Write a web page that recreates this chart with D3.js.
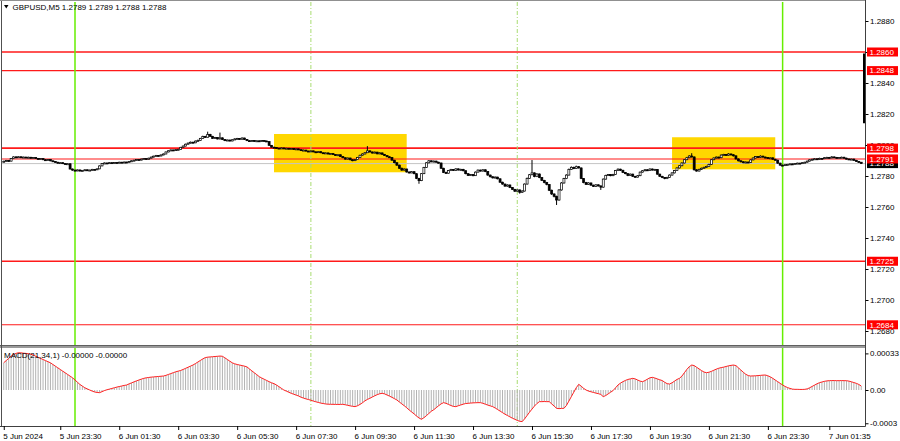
<!DOCTYPE html>
<html><head><meta charset="utf-8">
<script src="https://cdn.jsdelivr.net/npm/d3@7"></script>
<style>html,body{margin:0;padding:0;background:#fff;} svg{display:block;font-family:"Liberation Sans",Arial,sans-serif;}</style>
</head><body><svg id="c" width="900" height="441"></svg>
<script>
const symbolTitle = "GBPUSD,M5";
const lastOHLC = ["1.2789","1.2789","1.2788","1.2788"];
const macdTitle = "MACD(21,34,1) -0.00000 -0.00000";
const firstOpen = 1.27892;
const closes = [
1.27895,1.27900,1.27896,1.27912,1.27923,1.27920,1.27924,1.27918,1.27922,1.27919,
1.27921,1.27915,1.27919,1.27914,1.27908,1.27912,1.27905,1.27901,1.27906,1.27898,
1.27894,1.27889,1.27883,1.27886,1.27880,1.27877,1.27879,1.27845,1.27838,1.27834,
1.27839,1.27832,1.27836,1.27840,1.27835,1.27838,1.27843,1.27841,1.27846,1.27865,
1.27880,1.27884,1.27882,1.27886,1.27883,1.27887,1.27885,1.27889,1.27886,1.27890,
1.27888,1.27893,1.27898,1.27902,1.27906,1.27903,1.27909,1.27912,1.27908,1.27915,
1.27922,1.27928,1.27933,1.27929,1.27936,1.27942,1.27955,1.27963,1.27968,1.27964,
1.27970,1.27972,1.27985,1.27993,1.28005,1.28012,1.28018,1.28014,1.28025,1.28030,
1.28042,1.28055,1.28050,1.28068,1.28056,1.28043,1.28048,1.28039,1.28046,1.28035,
1.28028,1.28032,1.28026,1.28034,1.28039,1.28042,1.28037,1.28045,1.28036,1.28028,
1.28024,1.28029,1.28025,1.28027,1.28023,1.28029,1.28026,1.28022,1.27998,1.27986,
1.27983,1.27980,1.27978,1.27981,1.27976,1.27979,1.27975,1.27977,1.27972,1.27975,
1.27970,1.27964,1.27967,1.27961,1.27958,1.27962,1.27956,1.27953,1.27957,1.27950,
1.27946,1.27949,1.27942,1.27945,1.27938,1.27933,1.27937,1.27925,1.27918,1.27909,
1.27916,1.27905,1.27899,1.27906,1.27920,1.27934,1.27942,1.27950,1.27962,1.27955,
1.27948,1.27954,1.27943,1.27949,1.27940,1.27932,1.27924,1.27920,1.27902,1.27886,
1.27870,1.27850,1.27838,1.27845,1.27826,1.27820,1.27828,1.27815,1.27785,1.27770,
1.27815,1.27855,1.27885,1.27898,1.27892,1.27896,1.27889,1.27884,1.27850,1.27823,
1.27818,1.27835,1.27842,1.27836,1.27846,1.27839,1.27843,1.27834,1.27815,1.27804,
1.27809,1.27802,1.27825,1.27838,1.27832,1.27840,1.27829,1.27806,1.27795,1.27788,
1.27793,1.27782,1.27760,1.27748,1.27735,1.27742,1.27726,1.27714,1.27702,1.27710,
1.27695,1.27703,1.27748,1.27785,1.27808,1.27820,1.27796,1.27813,1.27790,1.27772,
1.27758,1.27745,1.27708,1.27684,1.27669,1.27645,1.27710,1.27755,1.27783,1.27806,
1.27843,1.27856,1.27848,1.27860,1.27852,1.27784,1.27758,1.27746,1.27755,1.27741,
1.27733,1.27743,1.27736,1.27728,1.27780,1.27804,1.27809,1.27802,1.27810,1.27835,
1.27844,1.27837,1.27823,1.27815,1.27803,1.27812,1.27798,1.27793,1.27802,1.27825,
1.27834,1.27840,1.27836,1.27845,1.27839,1.27842,1.27812,1.27798,1.27790,1.27783,
1.27791,1.27806,1.27820,1.27835,1.27852,1.27866,1.27884,1.27905,1.27918,1.27929,
1.27923,1.27840,1.27832,1.27843,1.27850,1.27856,1.27862,1.27875,1.27905,1.27916,
1.27922,1.27918,1.27935,1.27939,1.27934,1.27942,1.27937,1.27930,1.27910,1.27898,
1.27892,1.27886,1.27890,1.27888,1.27904,1.27916,1.27925,1.27920,1.27928,1.27922,
1.27919,1.27913,1.27917,1.27908,1.27902,1.27883,1.27870,1.27869,1.27873,1.27875,
1.27878,1.27876,1.27880,1.27883,1.27881,1.27886,1.27889,1.27896,1.27904,1.27908,
1.27911,1.27909,1.27914,1.27912,1.27918,1.27920,1.27917,1.27923,1.27920,1.27916,
1.27919,1.27921,1.27915,1.27910,1.27906,1.27909,1.27901,1.27894,1.27889,1.27880];
const highs = [
1.27899,1.27904,1.27903,1.27915,1.27927,1.27928,1.27927,1.27926,1.27925,1.27924,
1.27925,1.27923,1.27922,1.27921,1.27916,1.27915,1.27914,1.27908,1.27909,1.27908,
1.27900,1.27896,1.27891,1.27889,1.27888,1.27882,1.27882,1.27881,1.27848,1.27841,
1.27842,1.27841,1.27839,1.27843,1.27842,1.27841,1.27846,1.27845,1.27849,1.27868,
1.27883,1.27887,1.27886,1.27889,1.27888,1.27890,1.27889,1.27892,1.27891,1.27893,
1.27892,1.27896,1.27901,1.27905,1.27909,1.27908,1.27912,1.27915,1.27914,1.27918,
1.27925,1.27931,1.27936,1.27935,1.27939,1.27945,1.27958,1.27966,1.27971,1.27970,
1.27973,1.27976,1.27988,1.27997,1.28009,1.28016,1.28022,1.28021,1.28029,1.28035,
1.28046,1.28060,1.28059,1.28086,1.28072,1.28059,1.28052,1.28050,1.28080,1.28049,
1.28038,1.28035,1.28034,1.28037,1.28043,1.28046,1.28045,1.28049,1.28047,1.28038,
1.28030,1.28032,1.28031,1.28030,1.28029,1.28032,1.28031,1.28028,1.28024,1.28000,
1.27989,1.27986,1.27982,1.27984,1.27983,1.27982,1.27981,1.27980,1.27979,1.27978,
1.27977,1.27972,1.27970,1.27969,1.27963,1.27965,1.27964,1.27958,1.27960,1.27959,
1.27952,1.27952,1.27951,1.27948,1.27947,1.27940,1.27940,1.27939,1.27928,1.27920,
1.27919,1.27918,1.27908,1.27909,1.27923,1.27937,1.27946,1.27954,1.27993,1.27966,
1.27958,1.27958,1.27956,1.27953,1.27951,1.27942,1.27934,1.27927,1.27922,1.27904,
1.27888,1.27873,1.27854,1.27849,1.27847,1.27829,1.27832,1.27830,1.27817,1.27788,
1.27819,1.27859,1.27890,1.27903,1.27901,1.27900,1.27899,1.27892,1.27886,1.27853,
1.27828,1.27839,1.27846,1.27845,1.27850,1.27849,1.27847,1.27846,1.27836,1.27818,
1.27813,1.27812,1.27829,1.27842,1.27841,1.27844,1.27843,1.27831,1.27809,1.27798,
1.27797,1.27795,1.27784,1.27763,1.27751,1.27746,1.27745,1.27729,1.27717,1.27714,
1.27713,1.27708,1.27752,1.27790,1.27813,1.27903,1.27823,1.27818,1.27816,1.27793,
1.27775,1.27762,1.27748,1.27712,1.27688,1.27673,1.27715,1.27760,1.27788,1.27811,
1.27848,1.27862,1.27860,1.27867,1.27864,1.27855,1.27787,1.27762,1.27759,1.27758,
1.27744,1.27747,1.27746,1.27739,1.27784,1.27808,1.27813,1.27812,1.27814,1.27839,
1.27849,1.27847,1.27840,1.27826,1.27818,1.27816,1.27815,1.27801,1.27806,1.27829,
1.27838,1.27845,1.27843,1.27849,1.27848,1.27846,1.27845,1.27815,1.27801,1.27793,
1.27795,1.27810,1.27824,1.27839,1.27856,1.27870,1.27888,1.27909,1.27923,1.27934,
1.27947,1.27926,1.27844,1.27847,1.27854,1.27860,1.27866,1.27879,1.27909,1.27920,
1.27926,1.27925,1.27939,1.27943,1.27942,1.27947,1.27945,1.27940,1.27933,1.27913,
1.27901,1.27895,1.27894,1.27893,1.27908,1.27920,1.27929,1.27928,1.27933,1.27931,
1.27925,1.27922,1.27920,1.27920,1.27911,1.27905,1.27886,1.27873,1.27876,1.27878,
1.27881,1.27880,1.27883,1.27886,1.27885,1.27889,1.27892,1.27899,1.27908,1.27912,
1.27915,1.27914,1.27918,1.27916,1.27922,1.27924,1.27923,1.27928,1.27926,1.27923,
1.27922,1.27925,1.27924,1.27918,1.27913,1.27912,1.27912,1.27904,1.27897,1.27890];
const lows = [
1.27889,1.27893,1.27893,1.27894,1.27910,1.27917,1.27918,1.27915,1.27916,1.27916,
1.27917,1.27912,1.27913,1.27911,1.27905,1.27906,1.27902,1.27898,1.27899,1.27895,
1.27891,1.27886,1.27880,1.27881,1.27877,1.27874,1.27875,1.27842,1.27834,1.27830,
1.27831,1.27829,1.27830,1.27834,1.27832,1.27833,1.27836,1.27838,1.27839,1.27844,
1.27863,1.27878,1.27879,1.27880,1.27880,1.27881,1.27882,1.27883,1.27884,1.27884,
1.27885,1.27886,1.27891,1.27896,1.27900,1.27900,1.27901,1.27907,1.27905,1.27906,
1.27913,1.27920,1.27926,1.27926,1.27927,1.27934,1.27940,1.27953,1.27961,1.27961,
1.27962,1.27968,1.27970,1.27983,1.27991,1.28003,1.28010,1.28011,1.28012,1.28022,
1.28028,1.28040,1.28046,1.28048,1.28053,1.28040,1.28040,1.28036,1.28036,1.28032,
1.28025,1.28026,1.28023,1.28024,1.28032,1.28037,1.28034,1.28035,1.28033,1.28025,
1.28021,1.28022,1.28022,1.28023,1.28020,1.28021,1.28023,1.28019,1.27995,1.27983,
1.27980,1.27977,1.27975,1.27976,1.27973,1.27974,1.27972,1.27973,1.27969,1.27970,
1.27967,1.27961,1.27962,1.27958,1.27955,1.27956,1.27953,1.27950,1.27951,1.27947,
1.27943,1.27944,1.27939,1.27940,1.27935,1.27930,1.27931,1.27922,1.27915,1.27905,
1.27906,1.27901,1.27895,1.27896,1.27904,1.27918,1.27932,1.27940,1.27948,1.27952,
1.27945,1.27946,1.27940,1.27941,1.27937,1.27929,1.27921,1.27917,1.27899,1.27882,
1.27866,1.27846,1.27834,1.27835,1.27822,1.27816,1.27818,1.27811,1.27780,1.27750,
1.27767,1.27812,1.27852,1.27882,1.27888,1.27889,1.27886,1.27880,1.27846,1.27819,
1.27814,1.27816,1.27832,1.27833,1.27834,1.27835,1.27836,1.27830,1.27811,1.27800,
1.27801,1.27798,1.27800,1.27823,1.27829,1.27829,1.27825,1.27802,1.27791,1.27784,
1.27785,1.27778,1.27756,1.27744,1.27730,1.27731,1.27722,1.27710,1.27697,1.27699,
1.27686,1.27691,1.27700,1.27745,1.27782,1.27805,1.27792,1.27793,1.27786,1.27768,
1.27753,1.27740,1.27703,1.27678,1.27662,1.27613,1.27641,1.27706,1.27751,1.27780,
1.27803,1.27840,1.27844,1.27845,1.27848,1.27780,1.27753,1.27742,1.27743,1.27737,
1.27729,1.27730,1.27732,1.27710,1.27725,1.27777,1.27800,1.27798,1.27799,1.27807,
1.27832,1.27833,1.27819,1.27811,1.27799,1.27800,1.27794,1.27789,1.27790,1.27799,
1.27822,1.27831,1.27832,1.27833,1.27835,1.27836,1.27808,1.27794,1.27786,1.27779,
1.27780,1.27788,1.27803,1.27817,1.27832,1.27849,1.27863,1.27881,1.27902,1.27915,
1.27919,1.27835,1.27828,1.27829,1.27840,1.27847,1.27853,1.27859,1.27872,1.27902,
1.27913,1.27914,1.27915,1.27932,1.27930,1.27931,1.27933,1.27926,1.27906,1.27894,
1.27888,1.27882,1.27883,1.27884,1.27885,1.27901,1.27913,1.27916,1.27917,1.27919,
1.27915,1.27910,1.27910,1.27904,1.27898,1.27879,1.27866,1.27865,1.27866,1.27870,
1.27872,1.27873,1.27873,1.27877,1.27878,1.27878,1.27883,1.27886,1.27893,1.27901,
1.27905,1.27906,1.27906,1.27909,1.27909,1.27915,1.27914,1.27914,1.27917,1.27913,
1.27913,1.27916,1.27912,1.27907,1.27903,1.27903,1.27898,1.27891,1.27886,1.27880];
const macd = [
2.46e-4,2.65e-4,2.85e-4,3.05e-4,3.2e-4,3.3e-4,3.36e-4,3.35e-4,3.32e-4,3.3e-4,
3.27e-4,3.22e-4,3.15e-4,3.05e-4,2.95e-4,2.85e-4,2.75e-4,2.65e-4,2.55e-4,2.45e-4,
2.3e-4,2.15e-4,2.0e-4,1.85e-4,1.7e-4,1.55e-4,1.4e-4,1.25e-4,1.1e-4,0.9e-4,
0.7e-4,0.5e-4,0.35e-4,0.2e-4,0.1e-4,0,-0.1e-4,-0.18e-4,-0.22e-4,-0.24e-4,
-0.15e-4,-0.05e-4,0.02e-4,0.08e-4,0.14e-4,0.2e-4,0.26e-4,0.31e-4,0.36e-4,0.41e-4,
0.45e-4,0.55e-4,0.64e-4,0.73e-4,0.82e-4,0.9e-4,0.98e-4,1.05e-4,1.1e-4,1.13e-4,
1.16e-4,1.18e-4,1.2e-4,1.22e-4,1.24e-4,1.26e-4,1.32e-4,1.4e-4,1.48e-4,1.56e-4,
1.64e-4,1.7e-4,1.76e-4,1.85e-4,1.95e-4,2.05e-4,2.15e-4,2.25e-4,2.38e-4,2.52e-4,
2.66e-4,2.8e-4,2.92e-4,2.96e-4,2.98e-4,3.0e-4,3.02e-4,3.04e-4,3.06e-4,3.04e-4,
2.9e-4,2.75e-4,2.6e-4,2.45e-4,2.36e-4,2.3e-4,2.25e-4,2.2e-4,2.15e-4,2.08e-4,
1.9e-4,1.72e-4,1.55e-4,1.38e-4,1.2e-4,1.08e-4,0.97e-4,0.86e-4,0.75e-4,0.65e-4,
0.57e-4,0.45e-4,0.3e-4,0.15e-4,0,-0.1e-4,-0.2e-4,-0.3e-4,-0.38e-4,-0.46e-4,
-0.54e-4,-0.65e-4,-0.73e-4,-0.8e-4,-0.86e-4,-0.92e-4,-1.0e-4,-1.06e-4,-1.12e-4,-1.18e-4,
-1.22e-4,-1.26e-4,-1.28e-4,-1.29e-4,-1.29e-4,-1.3e-4,-1.3e-4,-1.3e-4,-1.29e-4,-1.33e-4,
-1.38e-4,-1.43e-4,-1.47e-4,-1.5e-4,-1.42e-4,-1.3e-4,-1.15e-4,-0.98e-4,-0.85e-4,-0.75e-4,
-0.63e-4,-0.52e-4,-0.42e-4,-0.34e-4,-0.3e-4,-0.35e-4,-0.45e-4,-0.55e-4,-0.66e-4,-0.78e-4,
-0.9e-4,-1.08e-4,-1.25e-4,-1.42e-4,-1.6e-4,-1.8e-4,-1.98e-4,-2.15e-4,-2.35e-4,-2.52e-4,
-2.64e-4,-2.5e-4,-2.32e-4,-2.12e-4,-1.92e-4,-1.78e-4,-1.6e-4,-1.42e-4,-1.25e-4,-1.14e-4,
-1.2e-4,-1.3e-4,-1.4e-4,-1.48e-4,-1.5e-4,-1.42e-4,-1.35e-4,-1.28e-4,-1.22e-4,-1.2e-4,
-1.18e-4,-1.16e-4,-1.15e-4,-1.14e-4,-1.14e-4,-1.2e-4,-1.28e-4,-1.36e-4,-1.43e-4,-1.5e-4,
-1.62e-4,-1.76e-4,-1.9e-4,-2.04e-4,-2.18e-4,-2.3e-4,-2.42e-4,-2.54e-4,-2.64e-4,-2.74e-4,
-2.82e-4,-2.85e-4,-2.6e-4,-2.3e-4,-2.0e-4,-1.72e-4,-1.45e-4,-1.22e-4,-1.05e-4,-1.05e-4,
-1.04e-4,-1.05e-4,-1.05e-4,-1.25e-4,-1.45e-4,-1.65e-4,-1.68e-4,-1.66e-4,-1.65e-4,-1.4e-4,
-1.0e-4,-0.6e-4,-0.2e-4,0.2e-4,0.51e-4,0.35e-4,0.15e-4,0,-0.1e-4,-0.16e-4,
-0.22e-4,-0.28e-4,-0.33e-4,-0.4e-4,-0.6e-4,-0.5e-4,-0.35e-4,-0.2e-4,-0.05e-4,0.2e-4,
0.45e-4,0.62e-4,0.75e-4,0.86e-4,0.95e-4,1.0e-4,1.05e-4,1.0e-4,0.9e-4,0.8e-4,
0.75e-4,0.85e-4,0.98e-4,1.1e-4,1.14e-4,1.08e-4,1.0e-4,0.92e-4,0.85e-4,0.7e-4,
0.57e-4,0.54e-4,0.65e-4,0.8e-4,0.95e-4,1.05e-4,1.25e-4,1.55e-4,1.85e-4,2.1e-4,
2.25e-4,2.2e-4,2.05e-4,1.9e-4,1.75e-4,1.62e-4,1.56e-4,1.6e-4,1.68e-4,1.78e-4,
1.88e-4,1.96e-4,2.02e-4,2.06e-4,2.12e-4,2.18e-4,2.22e-4,2.25e-4,2.2e-4,2.0e-4,
1.8e-4,1.6e-4,1.42e-4,1.3e-4,1.26e-4,1.27e-4,1.28e-4,1.3e-4,1.32e-4,1.34e-4,
1.35e-4,1.28e-4,1.18e-4,1.05e-4,0.9e-4,0.75e-4,0.6e-4,0.45e-4,0.32e-4,0.22e-4,
0.14e-4,0.08e-4,0.06e-4,0.06e-4,0.05e-4,0.05e-4,0.06e-4,0.1e-4,0.2e-4,0.32e-4,
0.44e-4,0.56e-4,0.66e-4,0.72e-4,0.78e-4,0.82e-4,0.84e-4,0.85e-4,0.85e-4,0.84e-4,
0.84e-4,0.85e-4,0.84e-4,0.84e-4,0.8e-4,0.74e-4,0.67e-4,0.6e-4,0.5e-4,0.36e-4];
const priceTicks = [1.2880,1.2860,1.2840,1.2820,1.2800,1.2780,1.2760,1.2740,1.2720,1.2700,1.2680];
const macdTicks = [0.00033, 0, -0.0003];
const macdTickLabels = ["0.00033","0.00","-0.0003"];
const levels = [1.2860,1.2848,1.2798,1.2791,1.2725,1.2684];
const currentPrice = 1.2788;
const rightBar = [1.2859, 1.2814];
const timeLabels = ["5 Jun 2024","5 Jun 23:30","6 Jun 01:30","6 Jun 03:30","6 Jun 05:30","6 Jun 07:30","6 Jun 09:30","6 Jun 11:30","6 Jun 13:30","6 Jun 15:30","6 Jun 17:30","6 Jun 19:30","6 Jun 21:30","6 Jun 23:30","7 Jun 01:35"];
const timeLabelBars = [0,23,47,71,95,119,143,167,191,215,239,263,287,311,336];
const dayBars = [29, 317];
const markerBars = [125, 209];
const boxStartBars = [110, 272];
const boxEndBars = [164, 314];
const boxHighs = [1.28071, 1.28050];
const boxLows = [1.27824, 1.27843];

const svg = d3.select("#c");
const axisX = 865.5, mainT = 2, mainB = 345, macdT = 348, macdB = 426;
const n = closes.length;
const x = d3.scaleLinear().domain([0, n - 1]).range([3.75, 3.75 + (n - 1) * 2.457]);
const y = d3.scaleLinear().domain([1.268, 1.288]).range([331, 21]);
const ym = d3.scaleLinear().domain([0, 0.00033]).range([390, 353.4]);
const opens = closes.map((c, i) => i === 0 ? firstOpen : closes[i - 1]);

svg.append("rect").attr("width", 900).attr("height", 441).attr("fill", "#fff");

// yellow boxes
svg.append("g").selectAll("rect").data(boxStartBars).join("rect")
  .attr("x", (d) => x(d)).attr("width", (d, i) => x(boxEndBars[i]) - x(d))
  .attr("y", (d, i) => y(boxHighs[i])).attr("height", (d, i) => y(boxLows[i]) - y(boxHighs[i]))
  .attr("fill", "#ffd700");

// current price line
svg.append("line").attr("x1", 2).attr("x2", axisX).attr("y1", y(currentPrice)).attr("y2", y(currentPrice))
  .attr("stroke", "#c4c4c4").attr("stroke-width", 1);

// levels
svg.append("g").selectAll("line").data(levels).join("line")
  .attr("x1", 2).attr("x2", axisX).attr("y1", (d) => y(d)).attr("y2", (d) => y(d))
  .attr("stroke", "#ff1a1a").attr("stroke-width", (d, i) => i % 2 === 0 ? 1.6 : 1.1);

// vertical lines
svg.append("g").selectAll("line").data(markerBars).join("line")
  .attr("x1", (d) => x(d)).attr("x2", (d) => x(d)).attr("y1", mainT).attr("y2", macdB)
  .attr("stroke", "#a8dc70").attr("stroke-width", 1).attr("stroke-dasharray", "4,2,1,2");
svg.append("g").selectAll("line").data(dayBars).join("line")
  .attr("x1", (d) => x(d)).attr("x2", (d) => x(d)).attr("y1", mainT).attr("y2", macdB)
  .attr("stroke", "#66ee00").attr("stroke-width", 1.5);

// candles
const cg = svg.append("g");
cg.selectAll("line").data(closes).join("line")
  .attr("x1", (d, i) => x(i)).attr("x2", (d, i) => x(i))
  .attr("y1", (d, i) => y(highs[i])).attr("y2", (d, i) => y(lows[i]))
  .attr("stroke", "#000").attr("stroke-width", 1);
cg.selectAll("rect").data(closes).join("rect")
  .attr("x", (d, i) => x(i) - 1).attr("width", 2)
  .attr("y", (d, i) => y(Math.max(d, opens[i])))
  .attr("height", (d, i) => Math.max(1, Math.abs(y(d) - y(opens[i]))))
  .attr("fill", (d, i) => d >= opens[i] ? "#fff" : "#000")
  .attr("stroke", "#000").attr("stroke-width", 0.7);

// MACD histogram + line
svg.append("g").selectAll("line").data(macd).join("line")
  .attr("x1", (d, i) => x(i)).attr("x2", (d, i) => x(i))
  .attr("y1", ym(0)).attr("y2", (d) => ym(d))
  .attr("stroke", "#b2b2b2").attr("stroke-width", 1);
svg.append("path").datum(macd)
  .attr("d", d3.line().x((d, i) => x(i)).y((d) => ym(d)))
  .attr("fill", "none").attr("stroke", "#ff2020").attr("stroke-width", 1);

// frames
svg.append("rect").attr("x", 0).attr("y", mainB).attr("width", axisX).attr("height", 3).attr("fill", "#9a9a9a");
svg.append("line").attr("x1", 0).attr("x2", axisX).attr("y1", mainB + 0.5).attr("y2", mainB + 0.5).attr("stroke", "#606060");
svg.append("line").attr("x1", 1.5).attr("x2", 1.5).attr("y1", 0).attr("y2", macdB).attr("stroke", "#505050");
svg.append("line").attr("x1", 0).attr("x2", axisX).attr("y1", 0.5).attr("y2", 0.5).attr("stroke", "#909090");
svg.append("line").attr("x1", axisX).attr("x2", axisX).attr("y1", 0).attr("y2", macdB + 0.5).attr("stroke", "#404040");
svg.append("line").attr("x1", 0).attr("x2", axisX).attr("y1", macdB + 0.5).attr("y2", macdB + 0.5).attr("stroke", "#404040");
svg.append("line").attr("x1", axisX - 1.5).attr("x2", axisX - 1.5).attr("y1", y(rightBar[0])).attr("y2", y(rightBar[1]))
  .attr("stroke", "#000").attr("stroke-width", 2);

// axes
function styleAxis(g) {
  g.select(".domain").remove();
  g.selectAll("text").attr("font-size", 8).attr("fill", "#000").attr("font-family", "Liberation Sans, Arial, sans-serif");
  g.selectAll("line").attr("stroke", "#000");
}
svg.append("g").attr("transform", `translate(${axisX},0)`)
  .call(d3.axisRight(y).tickValues(priceTicks).tickFormat(d3.format(".4f")).tickSize(3).tickPadding(1.5))
  .call(styleAxis);
svg.append("g").attr("transform", `translate(${axisX},0)`)
  .call(d3.axisRight(ym).tickValues(macdTicks).tickFormat((d, i) => macdTickLabels[i]).tickSize(3).tickPadding(1.5))
  .call(styleAxis);
const tx = svg.append("g").attr("transform", `translate(0,${macdB})`)
  .call(d3.axisBottom(x).tickValues(timeLabelBars).tickFormat((d, i) => timeLabels[i]).tickSize(4).tickPadding(3))
  .call(styleAxis);
tx.selectAll("text").attr("text-anchor", "start").attr("dx", -1);

// level labels
const lg = svg.append("g");
function priceBox(v, fill) {
  const yy = y(v);
  lg.append("rect").attr("x", axisX + 1.5).attr("y", yy - 4.5).attr("width", 31).attr("height", 9).attr("fill", fill);
  lg.append("text").attr("x", axisX + 4).attr("y", yy).attr("dy", "0.34em").attr("font-size", 8).attr("fill", "#fff").text(d3.format(".4f")(v));
}
priceBox(currentPrice, "#000");
levels.forEach((v) => priceBox(v, "#ff0000"));

// titles
svg.append("path").attr("d", "M4,5 L8.5,5 L6.25,8.5 Z").attr("fill", "#000");
svg.append("text").attr("x", 12.5).attr("y", 10).attr("font-size", 8).attr("fill", "#000")
  .text(symbolTitle + "  " + lastOHLC.join(" "));
svg.append("text").attr("x", 4).attr("y", 357.5).attr("font-size", 8).attr("fill", "#000").text(macdTitle);
</script>
</body></html>
